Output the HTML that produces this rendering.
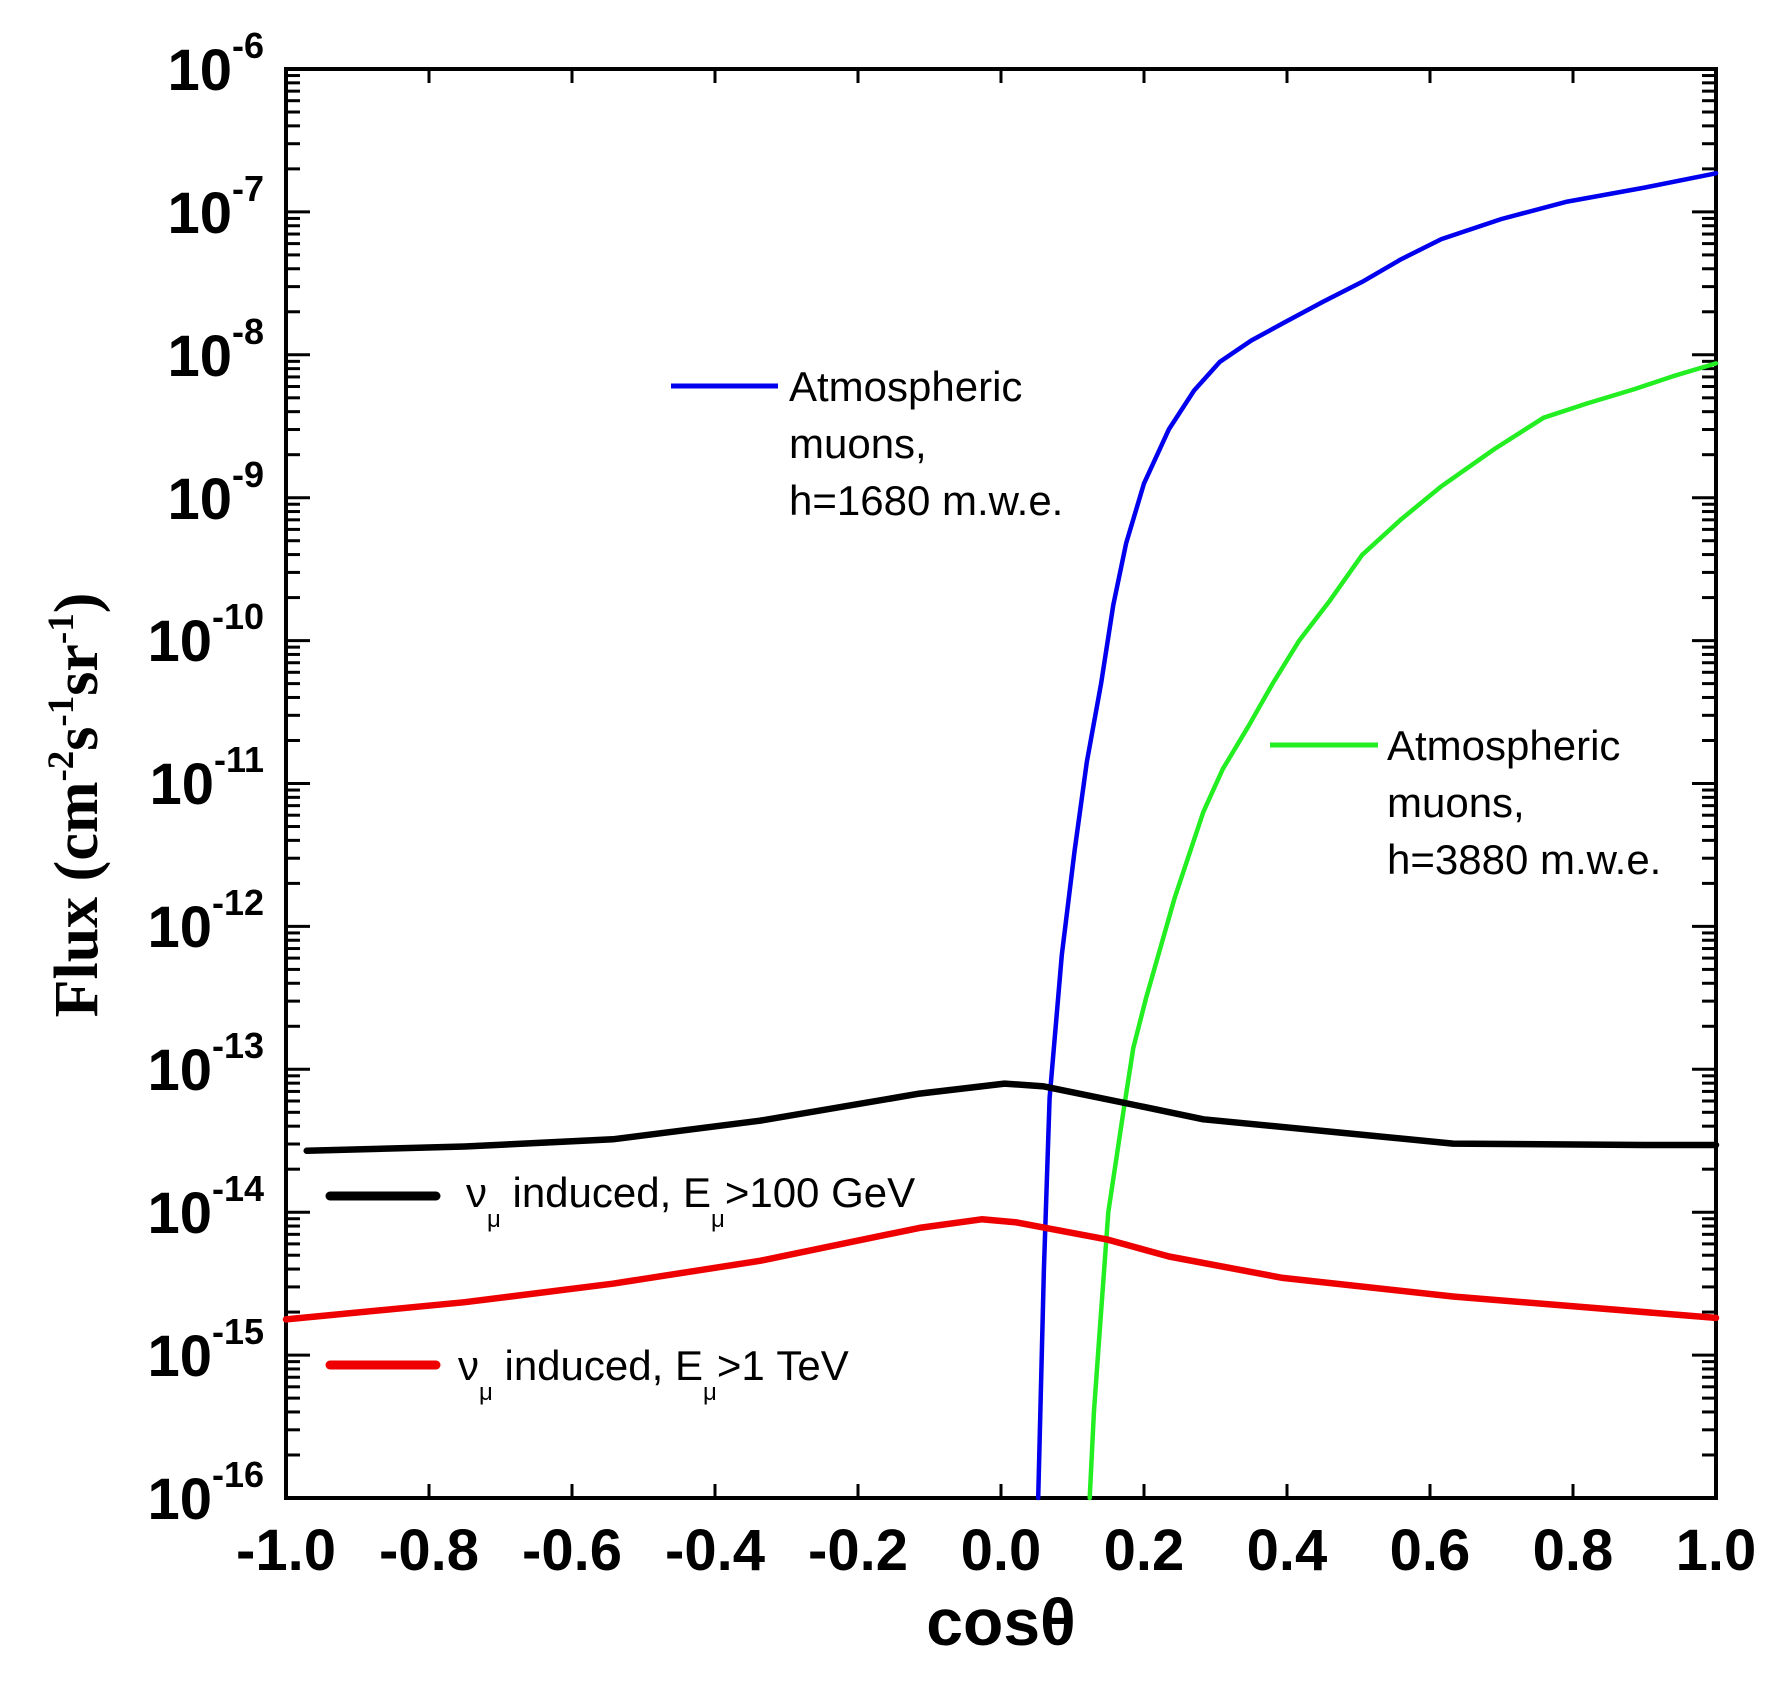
<!DOCTYPE html>
<html><head><meta charset="utf-8">
<style>
html,body{margin:0;padding:0;background:#fff;}
svg{display:block;}
.tl{font-family:"Liberation Sans",sans-serif;font-weight:bold;}
.lg{font-family:"Liberation Sans",sans-serif;font-size:42px;fill:#000;}
</style></head>
<body>
<svg id="s" width="1779" height="1682" viewBox="0 0 1779 1682" xmlns="http://www.w3.org/2000/svg">
<g id="ticks" stroke="#000" stroke-width="3"></g>
<rect x="286" y="69" width="1430" height="1429" fill="none" stroke="#000" stroke-width="4"/>
<g id="curves" fill="none" stroke-linejoin="round" stroke-linecap="round"></g>
<g class="tl" font-size="58" text-anchor="end">
<text x="264" y="90">10<tspan dy="-32" font-size="36">-6</tspan></text>
<text x="264" y="233">10<tspan dy="-32" font-size="36">-7</tspan></text>
<text x="264" y="376">10<tspan dy="-32" font-size="36">-8</tspan></text>
<text x="264" y="519">10<tspan dy="-32" font-size="36">-9</tspan></text>
<text x="264" y="661">10<tspan dy="-32" font-size="36">-10</tspan></text>
<text x="264" y="804">10<tspan dy="-32" font-size="36">-11</tspan></text>
<text x="264" y="947">10<tspan dy="-32" font-size="36">-12</tspan></text>
<text x="264" y="1090">10<tspan dy="-32" font-size="36">-13</tspan></text>
<text x="264" y="1233">10<tspan dy="-32" font-size="36">-14</tspan></text>
<text x="264" y="1376">10<tspan dy="-32" font-size="36">-15</tspan></text>
<text x="264" y="1519">10<tspan dy="-32" font-size="36">-16</tspan></text>
</g>
<g class="tl" font-size="58" text-anchor="middle">
<text x="286" y="1570">-1.0</text><text x="429" y="1570">-0.8</text><text x="572" y="1570">-0.6</text>
<text x="715" y="1570">-0.4</text><text x="858" y="1570">-0.2</text><text x="1001" y="1570">0.0</text>
<text x="1144" y="1570">0.2</text><text x="1287" y="1570">0.4</text><text x="1430" y="1570">0.6</text>
<text x="1573" y="1570">0.8</text><text x="1716" y="1570">1.0</text>
</g>
<text x="1001" y="1645" class="tl" font-size="66" text-anchor="middle">cosθ</text>
<text transform="translate(97,805) rotate(-90)" text-anchor="middle" font-family="'Liberation Serif',serif" font-weight="bold" font-size="62">Flux (cm<tspan dy="-24" font-size="37">-2</tspan><tspan dy="24">s</tspan><tspan dy="-24" font-size="37">-1</tspan><tspan dy="24">sr</tspan><tspan dy="-24" font-size="37">-1</tspan><tspan dy="24">)</tspan></text>
<line x1="671" y1="386" x2="778" y2="386" stroke="#0000ee" stroke-width="5"/>
<text class="lg" x="789" y="401">Atmospheric</text>
<text class="lg" x="789" y="458">muons,</text>
<text class="lg" x="789" y="515">h=1680 m.w.e.</text>
<line x1="1270" y1="745" x2="1378" y2="745" stroke="#22ee22" stroke-width="5"/>
<text class="lg" x="1387" y="760">Atmospheric</text>
<text class="lg" x="1387" y="817">muons,</text>
<text class="lg" x="1387" y="874">h=3880 m.w.e.</text>
<line x1="330" y1="1196" x2="436" y2="1196" stroke="#000" stroke-width="9" stroke-linecap="round"/>
<text class="lg" x="466" y="1207">ν<tspan font-size="24" dy="20">μ</tspan><tspan dy="-20"> induced, E</tspan><tspan font-size="24" dy="20">μ</tspan><tspan dy="-20">&gt;100 GeV</tspan></text>
<line x1="330" y1="1365" x2="436" y2="1365" stroke="#ee0000" stroke-width="9" stroke-linecap="round"/>
<text class="lg" x="458" y="1380">ν<tspan font-size="24" dy="20">μ</tspan><tspan dy="-20"> induced, E</tspan><tspan font-size="24" dy="20">μ</tspan><tspan dy="-20">&gt;1 TeV</tspan></text>
</svg>
<script>
var NS="http://www.w3.org/2000/svg";
function X(c){return 286+(c+1)*715;}
function Y(e){return 69+(-6-e)*142.9;}
function el(p,t,a){var e=document.createElementNS(NS,t);for(var k in a)e.setAttribute(k,a[k]);p.appendChild(e);return e;}
var tk=document.getElementById('ticks');
for(var d=-16;d<=-6;d++){
  var y=Y(d);
  el(tk,'line',{x1:286,y1:y,x2:310,y2:y});el(tk,'line',{x1:1716,y1:y,x2:1692,y2:y});
  if(d<-6)for(var k=2;k<=9;k++){var yy=Y(d+Math.log10(k));
    el(tk,'line',{x1:286,y1:yy,x2:300,y2:yy});el(tk,'line',{x1:1716,y1:yy,x2:1702,y2:yy});}
}
for(var i=0;i<=10;i++){var x=286+i*143;el(tk,'line',{x1:x,y1:1498,x2:x,y2:1484});el(tk,'line',{x1:x,y1:69,x2:x,y2:83});}
var cv=document.getElementById('curves');
function path(pts,col,w){var d=pts.map(function(p,i){return (i?'L':'M')+X(p[0]).toFixed(1)+' '+Y(p[1]).toFixed(1);}).join(' ');el(cv,'path',{d:d,stroke:col,'stroke-width':w});}
path([[0.052,-16],[0.060,-14.4],[0.068,-13.2],[0.085,-12.2],[0.103,-11.47],[0.12,-10.85],[0.14,-10.3],[0.157,-9.75],[0.175,-9.32],[0.2,-8.9],[0.235,-8.52],[0.27,-8.25],[0.306,-8.05],[0.35,-7.9],[0.394,-7.78],[0.45,-7.63],[0.505,-7.49],[0.56,-7.33],[0.616,-7.19],[0.7,-7.05],[0.79,-6.93],[0.9,-6.83],[1.0,-6.73]],'#0000ee',4.5);
path([[0.124,-16],[0.13,-15.4],[0.137,-14.9],[0.15,-14.0],[0.171,-13.3],[0.185,-12.85],[0.203,-12.5],[0.243,-11.8],[0.283,-11.2],[0.31,-10.9],[0.346,-10.6],[0.38,-10.3],[0.417,-10.0],[0.46,-9.72],[0.505,-9.4],[0.56,-9.15],[0.616,-8.92],[0.69,-8.66],[0.759,-8.44],[0.82,-8.34],[0.886,-8.24],[0.94,-8.15],[1.0,-8.06]],'#22ee22',4.5);
path([[-0.971,-13.57],[-0.75,-13.54],[-0.543,-13.49],[-0.337,-13.36],[-0.114,-13.17],[0.005,-13.1],[0.06,-13.12],[0.187,-13.25],[0.283,-13.35],[0.489,-13.45],[0.632,-13.52],[0.9,-13.53],[1.0,-13.53]],'#000',6.5);
path([[-1,-14.75],[-0.75,-14.63],[-0.543,-14.5],[-0.337,-14.34],[-0.114,-14.11],[-0.027,-14.05],[0.02,-14.07],[0.148,-14.19],[0.235,-14.31],[0.394,-14.46],[0.632,-14.59],[1,-14.74]],'#ee0000',6.5);
</script>
</body></html>
